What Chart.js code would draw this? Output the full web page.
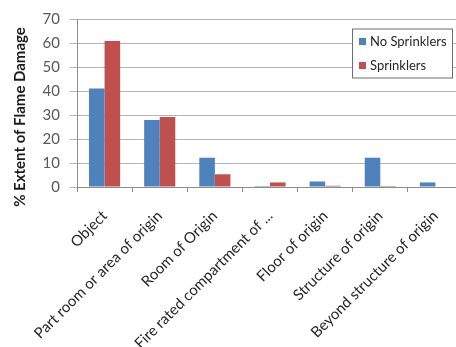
<!DOCTYPE html>
<html>
<head>
<meta charset="utf-8">
<script src="https://cdn.jsdelivr.net/npm/chart.js@4/dist/chart.umd.min.js"></script>
<style>
  html, body { margin: 0; padding: 0; background: #fff; overflow: hidden; }
  #wrap { width: 470px; height: 347px; }
</style>
</head>
<body>
<div id="wrap"><canvas id="c" width="470" height="347"></canvas></div>
<script>
const categories = [
  'Object',
  'Part room or area of origin',
  'Room of Origin',
  'Fire rated compartment of ...',
  'Floor of origin',
  'Structure of origin',
  'Beyond structure of origin'
];
const noSprinklers = [41.0, 27.9, 12.2, 0.4, 2.3, 12.2, 1.9];
const sprinklers   = [60.8, 29.2, 5.3, 1.9, 0.5, 0.4, 0];
const yTicks = [0, 10, 20, 30, 40, 50, 60, 70];
const yTitle = '% Extent of Flame Damage';

const FONT = 'Lato, "Open Sans", sans-serif';

// Boxed legend drawn inside the plot area, top-right
const boxLegend = {
  id: 'boxLegend',
  afterDraw(chart) {
    const ctx = chart.ctx;
    const x = 352, y = 28.5, w = 100, h = 49;
    ctx.save();
    ctx.fillStyle = '#ffffff';
    ctx.fillRect(x, y, w, h);
    ctx.strokeStyle = '#6e6e6e';
    ctx.lineWidth = 1;
    ctx.strokeRect(x + 0.5, y + 0.5, w, h);
    ctx.font = '13px ' + FONT;
    ctx.textBaseline = 'middle';
    chart.data.datasets.forEach((ds, i) => {
      const cy = y + 13 + i * 24;
      ctx.fillStyle = ds.backgroundColor;
      ctx.fillRect(x + 7, cy - 3.5, 7, 7);
      ctx.fillStyle = '#262626';
      ctx.fillText(ds.label, x + 18, cy);
    });
    ctx.restore();
  }
};

// Rotated y-axis title
const yAxisTitle = {
  id: 'yAxisTitle',
  afterDraw(chart) {
    const ctx = chart.ctx;
    ctx.save();
    ctx.translate(20, 117);
    ctx.rotate(-Math.PI / 2);
    ctx.font = 'bold 15px ' + FONT;
    ctx.fillStyle = '#1a1a1a';
    ctx.textAlign = 'center';
    ctx.textBaseline = 'middle';
    ctx.fillText(yTitle, 0, 0);
    ctx.restore();
  }
};

new Chart(document.getElementById('c'), {
  type: 'bar',
  data: {
    labels: categories,
    datasets: [
      { label: 'No Sprinklers', data: noSprinklers, backgroundColor: '#4F81BD' },
      { label: 'Sprinklers', data: sprinklers, backgroundColor: '#C0504D' }
    ]
  },
  options: {
    responsive: false,
    animation: false,
    layout: { padding: { top: 17, left: 0, right: 7, bottom: 0 } },
    datasets: { bar: { categoryPercentage: 0.564, barPercentage: 1.0 } },
    plugins: { legend: { display: false }, tooltip: { enabled: false } },
    scales: {
      x: {
        afterFit(scale) { scale.height = 160; },
        grid: {
          offset: true,
          drawOnChartArea: false,
          drawTicks: true,
          tickLength: 5,
          color: '#8c8c8c'
        },
        border: { color: '#8c8c8c' },
        ticks: {
          minRotation: 45,
          maxRotation: 45,
          autoSkip: false,
          padding: 15,
          color: '#262626',
          font: { family: FONT, size: 15 }
        }
      },
      y: {
        min: 0,
        max: 70,
        afterFit(scale) { scale.width = 77; },
        afterBuildTicks(scale) { scale.ticks = yTicks.map(v => ({ value: v })); },
        grid: { color: '#b4b4b4', tickLength: 7, drawTicks: true },
        border: { color: '#8c8c8c' },
        ticks: {
          padding: 10,
          color: '#595959',
          font: { family: FONT, size: 15 }
        }
      }
    }
  },
  plugins: [boxLegend, yAxisTitle]
});
</script>
</body>
</html>
